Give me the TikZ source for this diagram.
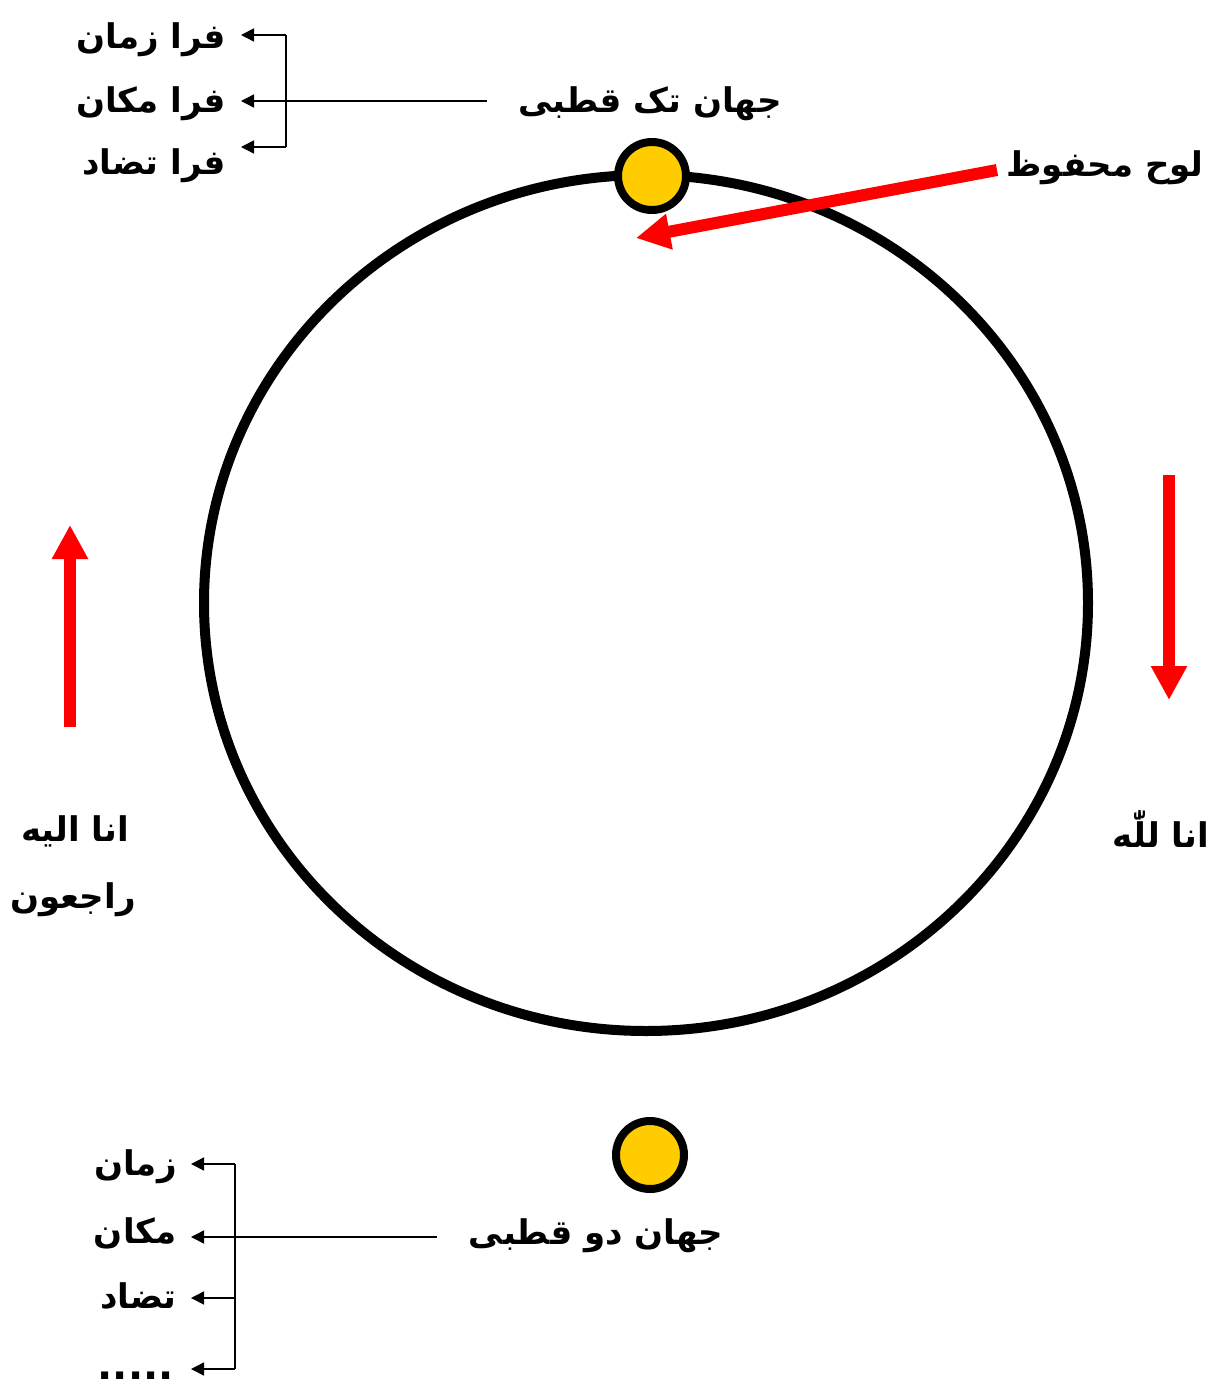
\documentclass[tikz,border=0pt]{standalone}
\usepackage{fontspec}
\newfontfamily\arabicfont[Script=Arabic,BoldFont={DejaVu Sans Bold}]{DejaVu Sans}
\newfontfamily\dotfont{DejaVu Sans Bold}
\TeXXeTstate=1
\usetikzlibrary{arrows.meta}
\definecolor{dotyellow}{HTML}{FFCC00}
\definecolor{arrred}{HTML}{FF0000}
\newcommand{\ar}[1]{{\arabicfont\bfseries\beginR #1\endR}}
\tikzset{
  lbl/.style={inner sep=0pt, font=\fontsize{17}{20}\selectfont},
  pole/.style={circle, draw=black, line width=4pt, fill=dotyellow, minimum size=34pt, inner sep=0pt},
  thin/.style={line width=0.75pt, -{Triangle[length=6.5pt,width=6.5pt]}},
  plain/.style={line width=0.75pt},
  bigred/.style={draw=arrred, line width=6pt, -{Triangle[length=17pt,width=17pt]}}
}
\begin{document}
\begin{tikzpicture}[x=0.5pt,y=-0.5pt]
\useasboundingbox (0,0) rectangle (1208,1386);
\fill[white] (0,0) rectangle (1208,1386);
% main circle
\draw[line width=5pt] (646,603) ellipse [x radius=221pt, y radius=214pt];
% poles
\node[pole] (top) at (652,176) {};
\node[pole] (bot) at (650,1155) {};
% titles
\node[lbl] (tak) at (650,104) {\ar{جهان تک قطبی}};
\node[lbl] (du) at (596,1236) {\ar{جهان دو قطبی}};
% top labels
\node[lbl, anchor=east] (fz) at (226,40) {\ar{فرا زمان}};
\node[lbl, anchor=east] (fm) at (226,104) {\ar{فرا مکان}};
\node[lbl, anchor=east] (ft) at (226,166) {\ar{فرا تضاد}};
% bottom labels
\node[lbl, anchor=east] (z) at (177,1167) {\ar{زمان}};
\node[lbl, anchor=east] (m) at (177,1233) {\ar{مکان}};
\node[lbl, anchor=east] (t) at (177,1296) {\ar{تضاد}};
\node[inner sep=0pt, anchor=base east, font=\dotfont\fontsize{20}{22}\selectfont] (dots) at (174,1379) {.....};
% side labels
\node[lbl, anchor=east] (lauh) at (1204,168) {\ar{لوح محفوظ}};
\node[lbl] (lillah) at (1161,829) {\ar{انا للّٰه}};
\node[lbl] (ilayh) at (75,831) {\ar{انا الیه}};
\node[lbl] (rajiun) at (73,900) {\ar{راجعون}};
% top bracket
\coordinate (ts) at (487,101);
\coordinate (tb1) at (286,35);
\coordinate (tb3) at (286,147);
\coordinate (ta1) at (241,35);
\coordinate (ta2) at (241,101);
\coordinate (ta3) at (241,147);
\draw[thin] (ts) -- (ta2);
\draw[plain] (tb1) -- (tb3);
\draw[thin] (tb1) -- (ta1);
\draw[thin] (tb3) -- (ta3);
% bottom bracket
\coordinate (bs) at (437,1237);
\coordinate (bb1) at (235,1164);
\coordinate (bb3) at (235,1298);
\coordinate (bb4) at (235,1369);
\coordinate (ba1) at (191,1164);
\coordinate (ba2) at (191,1237);
\coordinate (ba3) at (191,1298);
\coordinate (ba4) at (191,1369);
\draw[thin] (bs) -- (ba2);
\draw[plain] (bb1) -- (bb4);
\draw[thin] (bb1) -- (ba1);
\draw[thin] (bb3) -- (ba3);
\draw[thin] (bb4) -- (ba4);
% red arrows
\coordinate (r1s) at (997,170);
\coordinate (r1e) at (636,238);
\draw[bigred] (r1s) -- (r1e);
\coordinate (r2s) at (1169,475);
\coordinate (r2e) at (1169,700);
\draw[bigred] (r2s) -- (r2e);
\coordinate (r3s) at (70,727);
\coordinate (r3e) at (70,525);
\draw[bigred] (r3s) -- (r3e);
\end{tikzpicture}
\end{document}
